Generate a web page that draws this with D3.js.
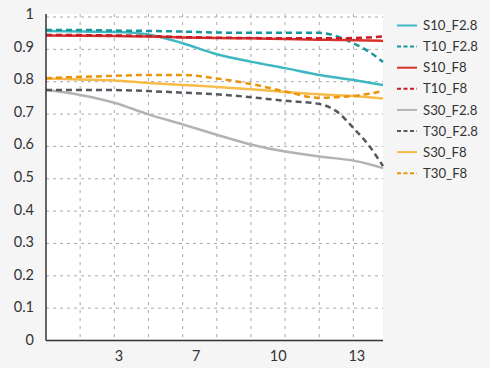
<!DOCTYPE html>
<html><head><meta charset="utf-8">
<script src="https://cdn.jsdelivr.net/npm/d3@7"></script>
<style>
html,body{margin:0;padding:0;background:#f5f5f5;}
svg{display:block;font-family:Lato,"Open Sans",sans-serif;}
</style></head>
<body><svg id="c" width="490" height="368"></svg>
<script>
// x positions (image-height units, 0..14.8)
const xs = [0, 1.5, 3, 4.5, 6, 7.5, 9, 10.5, 12, 12.75, 13.5, 14.2, 14.8];
const seriesNames = ["S10_F2.8","T10_F2.8","S10_F8","T10_F8","S30_F2.8","T30_F2.8","S30_F8","T30_F8"];
const S10_F28 = [0.957,0.955,0.954,0.946,0.919,0.885,0.862,0.842,0.821,0.813,0.805,0.797,0.790];
const T10_F28 = [0.960,0.960,0.958,0.957,0.955,0.952,0.951,0.951,0.951,0.941,0.919,0.892,0.861];
const S10_F8  = [0.943,0.942,0.941,0.940,0.937,0.935,0.934,0.932,0.930,0.929,0.928,0.927,0.926];
const T10_F8  = [0.944,0.944,0.943,0.941,0.938,0.936,0.935,0.934,0.934,0.934,0.935,0.937,0.940];
const S30_F28 = [0.774,0.759,0.735,0.699,0.668,0.636,0.606,0.584,0.569,0.563,0.556,0.545,0.533];
const T30_F28 = [0.774,0.774,0.774,0.771,0.766,0.761,0.752,0.741,0.731,0.709,0.657,0.601,0.539];
const S30_F8  = [0.810,0.807,0.804,0.796,0.790,0.784,0.777,0.768,0.761,0.758,0.756,0.752,0.748];
const T30_F8  = [0.811,0.815,0.818,0.821,0.821,0.810,0.793,0.770,0.750,0.752,0.756,0.763,0.771];
const seriesValues = [S10_F28,T10_F28,S10_F8,T10_F8,S30_F28,T30_F28,S30_F8,T30_F8];
const colors = ["#3fb8c2","#16979e","#d8322c","#c41e2a","#b3b3b3","#565a60","#f6bb48","#e8950e"];
const dashed = [false,true,false,true,false,true,false,true];
const yTicks = [0,0.1,0.2,0.3,0.4,0.5,0.6,0.7,0.8,0.9,1];
const yTickLabels = ["0","0.1","0.2","0.3","0.4","0.5","0.6","0.7","0.8","0.9","1"];
const xGrid = [1.5,3,4.5,6,7.5,9,10.5,12,13.5];
const xTickPos = [3.2, 6.6, 10.2, 13.65];
const xTickLabels = ["3","7","10","13"];

const svg = d3.select("#c");
const L = 46, R = 383, T = 14, B = 340.5;
const x = d3.scaleLinear().domain([0,14.8]).range([L,R]);
const y = d3.scaleLinear().domain([0,1]).range([B,17]);
const yLab = d3.scaleLinear().domain([0,1]).range([340,14]);

svg.append("rect").attr("x",L).attr("y",T).attr("width",R-L).attr("height",B-T).attr("fill","#ffffff");

// grid
svg.append("g").selectAll("line").data(yTicks.slice(1)).join("line")
  .attr("x1",L).attr("x2",R).attr("y1",d=>y(d)).attr("y2",d=>y(d))
  .attr("stroke","#a8a8a8").attr("stroke-width",1).attr("stroke-dasharray","3,4");
svg.append("g").selectAll("line").data(xGrid).join("line")
  .attr("x1",d=>x(d)).attr("x2",d=>x(d)).attr("y1",T).attr("y2",B)
  .attr("stroke","#a8a8a8").attr("stroke-width",1).attr("stroke-dasharray","3,5");

// y labels
svg.append("g").selectAll("text").data(yTicks).join("text")
  .attr("x",34).attr("y",d=>yLab(d)).attr("dy","0.35em").attr("text-anchor","end")
  .attr("font-size",14.5).attr("fill","#333").text((d,i)=>yTickLabels[i]);
// x labels
svg.append("g").selectAll("text").data(xTickPos).join("text")
  .attr("x",d=>x(d)).attr("y",356).attr("dy","0.35em").attr("text-anchor","middle")
  .attr("font-size",14.5).attr("fill","#333").text((d,i)=>xTickLabels[i]);

// lines
const line = d3.line().curve(d3.curveMonotoneX);
seriesValues.forEach((vals,i)=>{
  svg.append("path")
    .attr("d", line(vals.map((v,j)=>[x(xs[j]), y(v)])))
    .attr("fill","none").attr("stroke",colors[i]).attr("stroke-width",2.5)
    .attr("stroke-dasharray", dashed[i] ? "6,4" : null);
});

// axes
svg.append("line").attr("x1",L).attr("x2",L).attr("y1",T).attr("y2",B).attr("stroke","#333").attr("stroke-width",1.5);
svg.append("line").attr("x1",L).attr("x2",R).attr("y1",B).attr("y2",B).attr("stroke","#333").attr("stroke-width",1.5);

// legend
const lg = svg.append("g");
seriesNames.forEach((n,i)=>{
  const yy = 25.5 + i*21.1;
  lg.append("line").attr("x1",397).attr("x2",417).attr("y1",yy).attr("y2",yy)
    .attr("stroke",colors[i]).attr("stroke-width",2)
    .attr("stroke-dasharray", dashed[i] ? "4,2.5" : null);
  lg.append("text").attr("x",423).attr("y",yy).attr("dy","0.35em")
    .attr("font-size",13.2).attr("fill","#333").text(n);
});
</script></body></html>
